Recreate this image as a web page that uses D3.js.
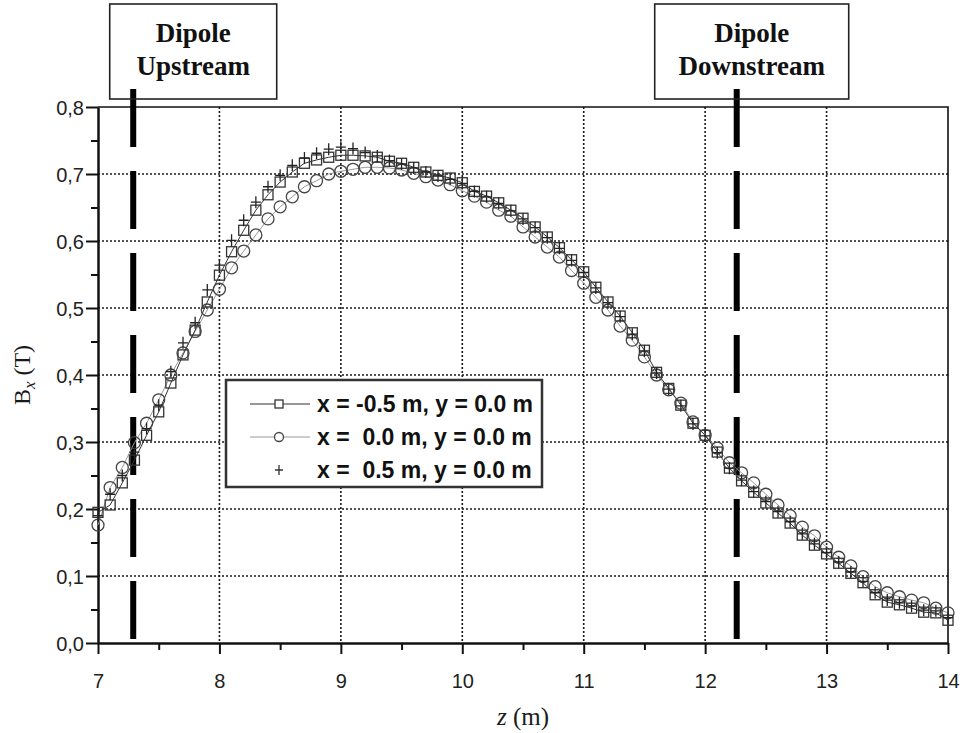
<!DOCTYPE html>
<html>
<head>
<meta charset="utf-8">
<script src="https://cdn.jsdelivr.net/npm/d3@7"></script>
<style>
    body { margin: 0; background: #fff; }
    svg { display: block; }
</style>
</head>
<body>
<svg id="chart"></svg>
<script>
// z positions of the measured points (m)
const zValues = [
    7.0, 7.1, 7.2, 7.3, 7.4, 7.5, 7.6, 7.7, 7.8, 7.9,
    8.0, 8.1, 8.2, 8.3, 8.4, 8.5, 8.6, 8.7, 8.8, 8.9,
    9.0, 9.1, 9.2, 9.3, 9.4, 9.5, 9.6, 9.7, 9.8, 9.9,
    10.0, 10.1, 10.2, 10.3, 10.4, 10.5, 10.6, 10.7, 10.8, 10.9,
    11.0, 11.1, 11.2, 11.3, 11.4, 11.5, 11.6, 11.7, 11.8, 11.9,
    12.0, 12.1, 12.2, 12.3, 12.4, 12.5, 12.6, 12.7, 12.8, 12.9,
    13.0, 13.1, 13.2, 13.3, 13.4, 13.5, 13.6, 13.7, 13.8, 13.9,
    14.0
];

// x = -0.5 m (squares)
const bxMinus = [
    0.195, 0.206, 0.239, 0.273, 0.310, 0.345, 0.388, 0.430, 0.467, 0.509,
    0.549, 0.584, 0.616, 0.646, 0.669, 0.688, 0.703, 0.716, 0.721, 0.725,
    0.728, 0.728, 0.727, 0.725, 0.719, 0.716, 0.710, 0.703, 0.698, 0.694,
    0.687, 0.674, 0.667, 0.657, 0.646, 0.634, 0.621, 0.606, 0.590, 0.572,
    0.554, 0.531, 0.509, 0.488, 0.463, 0.437, 0.404, 0.380, 0.355, 0.328,
    0.310, 0.285, 0.261, 0.242, 0.225, 0.209, 0.194, 0.179, 0.161, 0.146,
    0.133, 0.119, 0.104, 0.090, 0.072, 0.061, 0.057, 0.052, 0.046, 0.045,
    0.034
];

// x = 0.0 m (circles)
const bxZero = [
    0.176, 0.232, 0.262, 0.299, 0.328, 0.363, 0.400, 0.433, 0.465, 0.497,
    0.528, 0.560, 0.585, 0.609, 0.633, 0.651, 0.666, 0.681, 0.690, 0.700,
    0.704, 0.707, 0.710, 0.710, 0.709, 0.706, 0.701, 0.696, 0.691, 0.684,
    0.675, 0.667, 0.658, 0.646, 0.637, 0.621, 0.606, 0.591, 0.576, 0.556,
    0.537, 0.516, 0.497, 0.473, 0.452, 0.427, 0.400, 0.378, 0.358, 0.330,
    0.310, 0.291, 0.269, 0.254, 0.239, 0.222, 0.206, 0.190, 0.173, 0.160,
    0.143, 0.128, 0.115, 0.099, 0.084, 0.075, 0.069, 0.064, 0.060, 0.052,
    0.045
];

// x = 0.5 m (plus signs)
const bxPlus = [
    0.190, 0.222, 0.250, 0.285, 0.320, 0.355, 0.405, 0.448, 0.478, 0.527,
    0.564, 0.601, 0.631, 0.658, 0.681, 0.698, 0.713, 0.724, 0.731, 0.737,
    0.740, 0.738, 0.732, 0.727, 0.720, 0.715, 0.709, 0.703, 0.697, 0.692,
    0.686, 0.674, 0.666, 0.656, 0.645, 0.633, 0.620, 0.605, 0.589, 0.571,
    0.553, 0.530, 0.508, 0.487, 0.461, 0.436, 0.403, 0.379, 0.354, 0.327,
    0.309, 0.284, 0.261, 0.243, 0.226, 0.211, 0.196, 0.181, 0.163, 0.148,
    0.135, 0.121, 0.106, 0.092, 0.075, 0.064, 0.060, 0.055, 0.049, 0.048,
    0.038
];

const xTicks = [7, 8, 9, 10, 11, 12, 13, 14];
const yTicks = [0.0, 0.1, 0.2, 0.3, 0.4, 0.5, 0.6, 0.7, 0.8];
const legendLabels = ["x = -0.5 m, y = 0.0 m", "x =  0.0 m, y = 0.0 m", "x =  0.5 m, y = 0.0 m"];
const dipoleZ = [7.29, 12.26];
const dipoleNames = [["Dipole", "Upstream"], ["Dipole", "Downstream"]];

const width = 963;
const height = 733;
const plotL = 98, plotR = 948, plotT = 107, plotB = 643;

let svg = d3.select("#chart").attr("width", width).attr("height", height);

let scX = d3.scaleLinear().domain([7, 14]).range([plotL, plotR]);
let scY = d3.scaleLinear().domain([0, 0.8]).range([plotB, plotT]);

let fmtY = (d) => d3.format(".1f")(d).replace(".", ",");

// grid
let grid = svg.append("g")
    .attr("stroke", "#1a1a1a")
    .attr("stroke-width", 1.6)
    .attr("stroke-dasharray", "2,2");
grid.selectAll(".gx")
    .data(xTicks.slice(1, -1))
    .enter()
    .append("line")
    .attr("x1", d => scX(d)).attr("x2", d => scX(d))
    .attr("y1", plotT).attr("y2", plotB);
grid.selectAll(".gy")
    .data(yTicks.slice(1, -1))
    .enter()
    .append("line")
    .attr("x1", plotL).attr("x2", plotR)
    .attr("y1", d => scY(d)).attr("y2", d => scY(d));

// frame top/right
svg.append("path")
    .attr("d", `M${plotL},${plotT}H${plotR}V${plotB}`)
    .attr("fill", "none")
    .attr("stroke", "#111")
    .attr("stroke-width", 1.6);

// axes
let axisX = d3.axisBottom(scX)
    .tickValues(d3.range(7, 14.01, 0.5))
    .tickSize(0)
    .tickFormat("");
let gx = svg.append("g")
    .attr("transform", `translate(0, ${plotB})`)
    .call(axisX);
gx.select(".domain").attr("stroke", "#111").attr("stroke-width", 2.5);
gx.selectAll(".tick line")
    .attr("stroke", "#111")
    .attr("stroke-width", 2)
    .attr("y2", (d) => (Math.abs(d - Math.round(d)) < 0.01 ? 11 : 7));
gx.selectAll(".tick")
    .filter((d) => Math.abs(d - Math.round(d)) < 0.01)
    .append("text")
    .attr("y", 45)
    .attr("fill", "#222")
    .style("font-family", "'Liberation Sans', Arial, sans-serif")
    .style("font-size", "20px")
    .attr("text-anchor", "middle")
    .text((d) => Math.round(d));

let axisY = d3.axisLeft(scY)
    .tickValues(d3.range(0, 0.801, 0.05))
    .tickSize(0)
    .tickFormat("");
let gy = svg.append("g")
    .attr("transform", `translate(${plotL}, 0)`)
    .call(axisY);
gy.select(".domain").attr("stroke", "#111").attr("stroke-width", 2.5);
let isMajor = (d) => Math.abs(d * 10 - Math.round(d * 10)) < 0.01;
gy.selectAll(".tick line")
    .attr("stroke", "#111")
    .attr("stroke-width", 2)
    .attr("x2", (d) => (isMajor(d) ? -12 : -7));
gy.selectAll(".tick")
    .filter(isMajor)
    .append("text")
    .attr("x", -14)
    .attr("dy", "0.35em")
    .attr("fill", "#222")
    .style("font-family", "'Liberation Sans', Arial, sans-serif")
    .style("font-size", "20px")
    .attr("text-anchor", "end")
    .text((d) => fmtY(d));

// axis titles
let yTitle = svg.append("text")
    .attr("transform", `translate(30, ${(plotT + plotB) / 2}) rotate(-90)`)
    .attr("text-anchor", "middle")
    .style("font-family", "'Liberation Serif', 'Times New Roman', serif")
    .style("font-size", "24px")
    .attr("fill", "#1a1a1a");
yTitle.append("tspan").text("B");
yTitle.append("tspan").attr("font-style", "italic").attr("font-size", "17px").attr("dy", 5).text("x");
yTitle.append("tspan").attr("dy", -5).text(" (T)");

let xTitle = svg.append("text")
    .attr("x", (plotL + plotR) / 2)
    .attr("y", 725)
    .attr("text-anchor", "middle")
    .style("font-family", "'Liberation Serif', 'Times New Roman', serif")
    .style("font-size", "25px")
    .attr("fill", "#1a1a1a");
xTitle.append("tspan").attr("font-style", "italic").text("z");
xTitle.append("tspan").text(" (m)");

// dipole marker lines
svg.selectAll(".dipole")
    .data(dipoleZ)
    .enter()
    .append("line")
    .attr("x1", d => scX(d)).attr("x2", d => scX(d))
    .attr("y1", 89).attr("y2", plotB)
    .attr("stroke", "#000")
    .attr("stroke-width", 6)
    .attr("stroke-dasharray", "58,24");

// dipole label boxes
let boxW = [167, 194];
dipoleZ.forEach((z, i) => {
    let cx = i == 0 ? scX(z) + 60 : scX(z) + 15;
    let g = svg.append("g");
    g.append("rect")
        .attr("x", cx - boxW[i] / 2)
        .attr("y", 4)
        .attr("width", boxW[i])
        .attr("height", 95)
        .attr("fill", "none")
        .attr("stroke", "#222")
        .attr("stroke-width", 1.6);
    dipoleNames[i].forEach((t, k) => {
        g.append("text")
            .attr("x", cx)
            .attr("y", 42 + k * 33)
            .attr("text-anchor", "middle")
            .style("font-family", "'Liberation Serif', 'Times New Roman', serif")
            .style("font-weight", "bold")
            .style("font-size", "27px")
            .attr("fill", "#111")
            .text(t);
    });
});

// series
let lineGen = (vals) => d3.line()
    .x((d, i) => scX(zValues[i]))
    .y((d) => scY(d))(vals);

svg.append("path")
    .attr("d", lineGen(bxZero))
    .attr("fill", "none")
    .attr("stroke", "#999")
    .attr("stroke-width", 1);
svg.append("path")
    .attr("d", lineGen(bxMinus))
    .attr("fill", "none")
    .attr("stroke", "#333")
    .attr("stroke-width", 1);

let drawSquares = (g, vals) => {
    g.selectAll(".sq")
        .data(vals)
        .enter()
        .append("rect")
        .attr("x", (d, i) => scX(zValues[i]) - 5)
        .attr("y", (d) => scY(d) - 5)
        .attr("width", 10)
        .attr("height", 10)
        .attr("fill", "none")
        .attr("stroke", "#333")
        .attr("stroke-width", 1.3);
};
let drawCircles = (g, vals) => {
    g.selectAll(".ci")
        .data(vals)
        .enter()
        .append("circle")
        .attr("cx", (d, i) => scX(zValues[i]))
        .attr("cy", (d) => scY(d))
        .attr("r", 6)
        .attr("fill", "none")
        .attr("stroke", "#444")
        .attr("stroke-width", 1.3);
};
let drawPlus = (g, vals) => {
    g.selectAll(".pl")
        .data(vals)
        .enter()
        .append("path")
        .attr("d", (d, i) => {
            let x = scX(zValues[i]), y = scY(d);
            return `M${x - 5},${y}H${x + 5}M${x},${y - 6}V${y + 6}`;
        })
        .attr("stroke", "#222")
        .attr("stroke-width", 1.3);
};

drawSquares(svg.append("g"), bxMinus);
drawCircles(svg.append("g"), bxZero);
drawPlus(svg.append("g"), bxPlus);

// legend
let legend = svg.append("g");
legend.append("rect")
    .attr("x", 226).attr("y", 380)
    .attr("width", 316).attr("height", 107)
    .attr("fill", "#fff")
    .attr("stroke", "#333")
    .attr("stroke-width", 2.5);
let rowY = [404, 437, 470];
legendLabels.forEach((t, i) => {
    let y = rowY[i];
    if (i < 2) {
        legend.append("line")
            .attr("x1", 250).attr("x2", 310)
            .attr("y1", y).attr("y2", y)
            .attr("stroke", i == 0 ? "#333" : "#999")
            .attr("stroke-width", 1);
    }
    let mk = legend.append("g");
    if (i == 0) {
        mk.append("rect").attr("x", 275).attr("y", y - 4).attr("width", 8).attr("height", 8)
            .attr("fill", "#fff").attr("stroke", "#333").attr("stroke-width", 1.3);
    } else if (i == 1) {
        mk.append("circle").attr("cx", 279).attr("cy", y).attr("r", 4.5)
            .attr("fill", "#fff").attr("stroke", "#444").attr("stroke-width", 1.3);
    } else {
        mk.append("path").attr("d", `M275,${y}H283M279,${y - 5}V${y + 5}`)
            .attr("stroke", "#333").attr("stroke-width", 1.3);
    }
    legend.append("text")
        .attr("x", 317)
        .attr("y", y)
        .attr("dy", "0.36em")
        .attr("xml:space", "preserve")
        .style("white-space", "pre")
        .style("font-family", "'Liberation Sans', Arial, sans-serif")
        .style("font-weight", "bold")
        .style("font-size", "23px")
        .attr("fill", "#111")
        .text(t);
});
</script>
</body>
</html>
